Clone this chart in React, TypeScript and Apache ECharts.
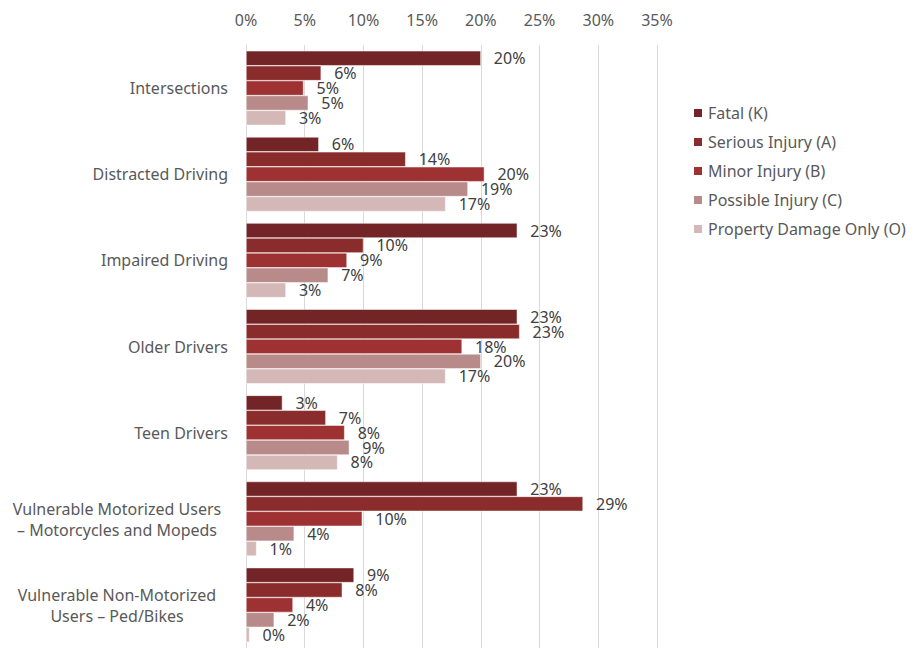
import React, { useEffect, useRef } from "react";
import * as echarts from "echarts";

const categories = [
  "Intersections",
  "Distracted Driving",
  "Impaired Driving",
  "Older Drivers",
  "Teen Drivers",
  "Vulnerable Motorized Users\n– Motorcycles and Mopeds",
  "Vulnerable Non-Motorized\nUsers – Ped/Bikes",
];

const seriesNames = [
  "Fatal (K)",
  "Serious Injury (A)",
  "Minor Injury (B)",
  "Possible Injury (C)",
  "Property Damage Only (O)",
];

const fatal = [20.0, 6.2, 23.1, 23.1, 3.1, 23.1, 9.2];
const serious = [6.4, 13.6, 10.0, 23.3, 6.8, 28.7, 8.2];
const minor = [4.9, 20.3, 8.6, 18.4, 8.4, 9.9, 4.0];
const possible = [5.3, 18.9, 7.0, 20.0, 8.8, 4.1, 2.4];
const pdo = [3.4, 17.0, 3.4, 17.0, 7.8, 0.9, 0.3];

const xTicks = { min: 0, max: 35, interval: 5 };

const colors = ["#722426", "#8B2C2C", "#9E3232", "#B88A8A", "#D4B8B8"];

const FONT = "Noto Sans";

export default function App() {
  const ref = useRef<HTMLDivElement>(null);
  useEffect(() => {
    if (!ref.current) return;
    const chart = echarts.init(ref.current, undefined, { renderer: "svg" });
    const allData = [fatal, serious, minor, possible, pdo];
    const richBase = {
      width: 222,
      align: "center",
      color: "#595959",
      fontSize: 16,
      fontFamily: FONT,
      lineHeight: 22,
    };
    chart.setOption({
      animation: false,
      textStyle: { fontFamily: FONT },
      grid: { left: 246, right: 257, top: 45, bottom: -4, containLabel: false },
      legend: {
        orient: "vertical",
        left: 687,
        top: 100,
        itemWidth: 10,
        itemHeight: 10,
        itemGap: 13,
        icon: "rect",
        textStyle: { color: "#595959", fontSize: 16, fontFamily: FONT, padding: [0, 0, 0, 0] },
        data: seriesNames,
      },
      xAxis: {
        type: "value",
        position: "top",
        min: xTicks.min,
        max: xTicks.max,
        interval: xTicks.interval,
        axisLine: { show: false },
        axisTick: { show: false },
        axisLabel: {
          formatter: "{value}%",
          color: "#595959",
          fontSize: 16,
          fontFamily: FONT,
          margin: 17,
        },
        splitLine: { lineStyle: { color: "#d9d9d9", width: 1 } },
      },
      yAxis: {
        type: "category",
        inverse: true,
        data: categories,
        axisLine: { show: true, lineStyle: { color: "#d9d9d9", width: 1 } },
        axisTick: { show: false },
        axisLabel: {
          color: "#595959",
          fontSize: 16,
          fontFamily: FONT,
          margin: 18,
          align: "right",
          formatter: (v: string) => {
            if (v.indexOf("\n") < 0) return v;
            const lines = v.split("\n");
            return "{a|" + lines[0] + "}\n{c|" + lines[1] + "}";
          },
          rich: {
            a: { ...richBase, padding: [3, 0, 0, 0] },
            c: richBase,
          },
        },
      },
      series: seriesNames.map((name, i) => ({
        name,
        type: "bar",
        data: allData[i],
        barGap: "0%",
        barCategoryGap: "13.5%",
        itemStyle: { color: colors[i], borderColor: "#ffffff", borderWidth: 0.5 },
        label: {
          show: true,
          position: "right",
          distance: 13,
          color: "#404040",
          fontSize: 16,
          fontFamily: FONT,
          formatter: (p: any) => Math.round(p.value) + "%",
        },
      })),
    });
    return () => chart.dispose();
  }, []);
  return <div ref={ref} style={{ width: 914, height: 648, position: "absolute", left: 0, top: 0 }} />;
}
